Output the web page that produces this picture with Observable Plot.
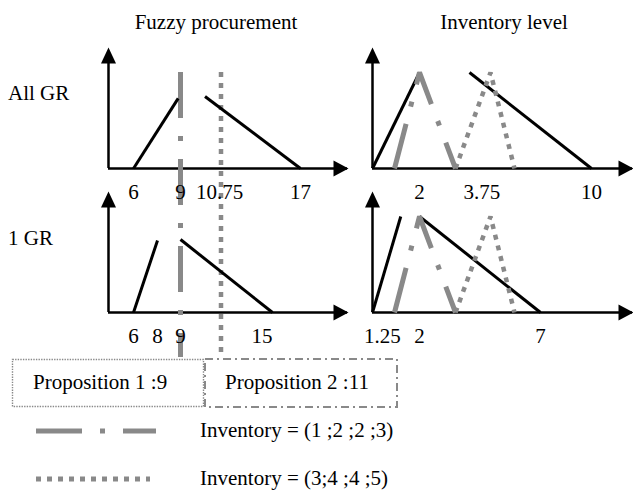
<!DOCTYPE html>
<html>
<head>
<meta charset="utf-8">
<script src="https://cdn.jsdelivr.net/npm/d3@7"></script>
<script src="https://cdn.jsdelivr.net/npm/@observablehq/plot@0.6"></script>
<style>
  body { margin: 0; background: #fff; }
  #fig { position: relative; width: 633px; height: 492px; background: #fff; overflow: hidden; }
  #fig svg { position: absolute; left: 0; top: 0; }
</style>
</head>
<body>
<div id="fig"></div>
<script>
// ---------------- data ----------------
const columns = ["Fuzzy procurement", "Inventory level"];
const rows = ["All GR", "1 GR"];

// tick labels under each panel
const procTicksAllGR = [6, 9, 10.75, 17];
const procTicks1GR = [6, 8, 9, 15];
const invTicksAllGR = [2, 3.75, 10];
const invTicks1GR = [1.25, 2, 7];

// fuzzy procurement (x, membership)
const procAllGRRise = [[6, 0], [8.9, 0.73]];
const procAllGRFall = [[10.1, 0.75], [17, 0]];
const proc1GRRise = [[6, 0], [8, 0.75]];
const proc1GRFall = [[9, 0.76], [15, 0]];

// inventory level (x, membership)
const invAllGRRise = [[0, 0], [2, 1]];
const invAllGRFall = [[3.4, 1], [10, 0]];
const inv1GRRise = [[0, 0], [1.25, 1]];
const inv1GRFall = [[2, 1], [7, 0]];

// inventory fuzzy numbers
const inventoryA = [[1, 0], [2, 1], [3, 0]]; // (1;2;2;3)
const inventoryB = [[3, 0], [4, 1], [5, 0]]; // (3;4;4;5)

// propositions (order quantities)
const propositionNames = ["Proposition 1 :9", "Proposition 2 :11"];
const propositionOrders = [9, 11];
const legendLabels = ["Inventory = (1 ;2 ;2 ;3)", "Inventory = (3;4 ;4 ;5)"];

// ---------------- layout / style ----------------
const GRAY = "#898989";
const FONT = '"Liberation Serif", "Times New Roman", serif';
const DASHDOT = "46,18,5,18";
const DOTTED = "5,6";

// schematic (piecewise) x scales
const procAxis = [4.4, 19];
const invAxis = [0, 11];
const procX = {domain: [4.4, 6, 8, 9, 10.75, 11, 15, 17, 19], range: [108, 133, 157, 180, 219, 220.5, 272, 300, 347]};
const invX = {domain: [0, 1, 2, 3, 4, 5, 7, 10, 11], range: [372, 394, 419, 455, 490, 514, 540, 591, 632]};
const ROW_STEP = 1.5;
const rowData = rows.map((r, i) => ({row: r, base: (rows.length - 1 - i) * ROW_STEP}));
const base = Object.fromEntries(rowData.map(d => [d.row, d.base]));

function seg(points, row, id) {
  return points.map(([x, m]) => ({x, y: base[row] + m, id: row + "-" + id}));
}
function ticks(values, row) {
  return values.map(v => ({v, y: base[row], label: String(v)}));
}
const endAnchored = new Set([15, 1.25]);

const arrowUp = {draw(ctx) { ctx.moveTo(0, -1); ctx.lineTo(7.5, 15); ctx.lineTo(-7.5, 15); ctx.closePath(); }};
const arrowRight = {draw(ctx) { ctx.moveTo(1, 0); ctx.lineTo(-14, -8); ctx.lineTo(-14, 8); ctx.closePath(); }};

function axesMarks(axis) {
  return [
    Plot.ruleY(rowData, {y: "base", x1: () => axis[0], x2: () => axis[1], stroke: "#000", strokeWidth: 2.5}),
    Plot.ruleX(rowData, {x: () => axis[0], y1: "base", y2: d => d.base + 1.2, stroke: "#000", strokeWidth: 2.5}),
    Plot.dot(rowData, {x: () => axis[0], y: d => d.base + 1.25, symbol: arrowUp, fill: "#000", stroke: null}),
    Plot.dot(rowData, {x: () => axis[1], y: "base", symbol: arrowRight, fill: "#000", stroke: null})
  ];
}
function tickMarks(data) {
  return [
    Plot.text(data.filter(d => !endAnchored.has(d.v)), {x: "v", y: "y", text: "label", dy: 30, lineAnchor: "bottom", textAnchor: "middle", fill: "#000"}),
    Plot.text(data.filter(d => endAnchored.has(d.v)), {x: "v", y: "y", text: "label", dy: 30, lineAnchor: "bottom", textAnchor: "end", fill: "#000"})
  ];
}
const plotStyle = {background: "transparent", fontFamily: FONT, fontSize: "21px", overflow: "visible"};
const yScale = {type: "linear", domain: [0, ROW_STEP], range: [312, 168], axis: null};

// ---------------- static layer (titles, boxes, legend) ----------------
const fig = d3.select("#fig");
const s = fig.append("svg").attr("width", 633).attr("height", 492)
  .style("font-family", FONT).style("font-size", "21px");
s.selectAll("text.col").data(columns).join("text")
  .attr("x", (d, i) => [216, 504][i]).attr("y", 29).attr("text-anchor", "middle").text(d => d);
s.selectAll("text.row").data(rows).join("text")
  .attr("x", 8).attr("y", (d, i) => [100, 245][i]).text(d => d);
// proposition boxes
s.append("rect").attr("x", 12.5).attr("y", 359.5).attr("width", 191).attr("height", 47)
  .attr("fill", "none").attr("stroke", GRAY).attr("stroke-width", 1.4).attr("stroke-dasharray", "1.4,1.2");
s.append("rect").attr("x", 205).attr("y", 359).attr("width", 192).attr("height", 48)
  .attr("fill", "none").attr("stroke", GRAY).attr("stroke-width", 2).attr("stroke-dasharray", "8,4,2,4");
s.selectAll("text.prop").data(propositionNames).join("text")
  .attr("x", (d, i) => [33, 225][i]).attr("y", 389).text(d => d);
// legend
const legendStyles = [DASHDOT, DOTTED];
const legendLen = [120, 114];
legendLabels.forEach((lab, i) => {
  const y = [431, 479][i];
  s.append("line").attr("x1", 36).attr("x2", 36 + legendLen[i]).attr("y1", y).attr("y2", y)
    .attr("stroke", GRAY).attr("stroke-width", 5).attr("stroke-dasharray", legendStyles[i]);
  s.append("text").attr("x", 200).attr("y", y + 6).text(lab);
});

// ---------------- left column: fuzzy procurement ----------------
const procLines = [
  ...seg(procAllGRRise, "All GR", "rise"), ...seg(procAllGRFall, "All GR", "fall"),
  ...seg(proc1GRRise, "1 GR", "rise"), ...seg(proc1GRFall, "1 GR", "fall")
];
const procTicks = [...ticks(procTicksAllGR, "All GR"), ...ticks(procTicks1GR, "1 GR")];
const props = propositionOrders.map((o, i) => ({order: o, top: base["All GR"] + 1, bottom: -0.47, i}));

const left = Plot.plot({
  width: 633, height: 492, margin: 0,
  x: {type: "linear", domain: procX.domain, range: procX.range, axis: null},
  y: yScale,
  style: plotStyle,
  marks: [
    ...axesMarks(procAxis),
    Plot.ruleX(props.filter(d => d.i === 0), {x: "order", y1: "top", y2: "bottom", stroke: GRAY, strokeWidth: 5, strokeDasharray: DASHDOT}),
    Plot.ruleX(props.filter(d => d.i === 1), {x: "order", y1: "top", y2: "bottom", stroke: GRAY, strokeWidth: 4.5, strokeDasharray: DOTTED}),
    Plot.line(procLines, {x: "x", y: "y", z: "id", stroke: "#000", strokeWidth: 3, strokeLinecap: "butt"}),
    ...tickMarks(procTicks)
  ]
});
document.getElementById("fig").appendChild(left);

// ---------------- right column: inventory level ----------------
const invLines = [
  ...seg(invAllGRRise, "All GR", "rise"), ...seg(invAllGRFall, "All GR", "fall"),
  ...seg(inv1GRRise, "1 GR", "rise"), ...seg(inv1GRFall, "1 GR", "fall")
];
const invA = rows.flatMap(r => seg(inventoryA, r, "A"));
const invB = rows.flatMap(r => seg(inventoryB, r, "B"));
const invTicks = [...ticks(invTicksAllGR, "All GR"), ...ticks(invTicks1GR, "1 GR")];

const right = Plot.plot({
  width: 633, height: 492, margin: 0,
  x: {type: "linear", domain: invX.domain, range: invX.range, axis: null},
  y: yScale,
  style: plotStyle,
  marks: [
    ...axesMarks(invAxis),
    Plot.line(invLines, {x: "x", y: "y", z: "id", stroke: "#000", strokeWidth: 3, strokeLinecap: "butt"}),
    Plot.line(invA, {x: "x", y: "y", z: "id", stroke: GRAY, strokeWidth: 5, strokeDasharray: DASHDOT, strokeLinecap: "butt", strokeLinejoin: "miter"}),
    Plot.line(invB, {x: "x", y: "y", z: "id", stroke: GRAY, strokeWidth: 4.5, strokeDasharray: DOTTED, strokeLinecap: "butt", strokeLinejoin: "miter"}),
    ...tickMarks(invTicks)
  ]
});
document.getElementById("fig").appendChild(right);
</script>
</body>
</html>
